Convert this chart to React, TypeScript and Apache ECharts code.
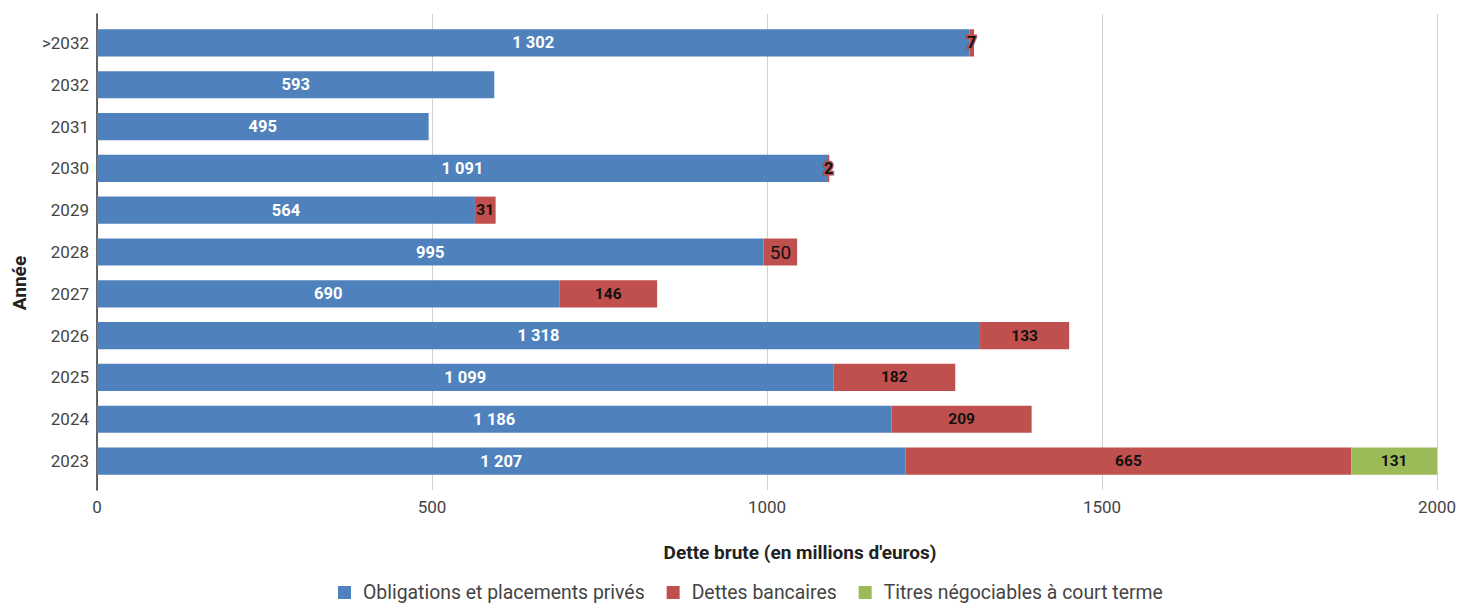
import React, { useEffect, useRef } from "react";
import * as echarts from "echarts";

const categories = ["2023", "2024", "2025", "2026", "2027", "2028", "2029", "2030", "2031", "2032", ">2032"];
const obligations = [1207, 1186, 1099, 1318, 690, 995, 564, 1091, 495, 593, 1302];
const dettesBancaires = [665, 209, 182, 133, 146, 50, 31, 2, null, null, 7];
const titres = [131, null, null, null, null, null, null, null, null, null, null];
const xTicks = [0, 500, 1000, 1500, 2000];

const fmt = (v: number) => String(v).replace(/\B(?=(\d{3})+(?!\d))/g, " ");
const FONT = "Roboto";

export default function App() {
  const ref = useRef<HTMLDivElement>(null);
  useEffect(() => {
    document.body.style.margin = "0";
    const chart = echarts.init(ref.current!, null, { renderer: "svg" });
    const redData = dettesBancaires.map((v) => {
      if (v === null) return null;
      if (v < 10) {
        return {
          value: v,
          label: { textBorderColor: "#c0504d", textBorderWidth: 3, fontSize: 16 },
        };
      }
      if (v === 50) {
        return { value: v, label: { fontSize: 19, fontWeight: "normal" } };
      }
      return v;
    });
    chart.setOption({
      animation: false,
      textStyle: { fontFamily: FONT },
      grid: [
        { left: 97, right: 20, top: 14, bottom: 115, outerBoundsMode: "none", containLabel: false },
        { left: 97, right: 20, top: 22, bottom: 123, outerBoundsMode: "none", containLabel: false },
      ],
      xAxis: [
        {
          gridIndex: 0,
          type: "value",
          min: xTicks[0],
          max: xTicks[xTicks.length - 1],
          interval: 500,
          axisLine: { show: false },
          axisTick: { show: false },
          axisLabel: {
            color: "#444",
            fontSize: 17,
            margin: 8,
            fontFamily: FONT,
            formatter: (v: number) => String(v),
          },
          splitLine: { lineStyle: { color: "#d0d0d0", width: 1 } },
        },
        {
          gridIndex: 1,
          type: "value",
          min: 0,
          max: 2000,
          show: false,
        },
      ],
      yAxis: [
        {
          gridIndex: 0,
          type: "value",
          min: 0,
          max: 1,
          axisLine: { show: true, lineStyle: { color: "#333", width: 1.5 } },
          axisTick: { show: false },
          axisLabel: { show: false },
          splitLine: { show: false },
        },
        {
          gridIndex: 1,
          type: "category",
          data: categories,
          axisLine: { show: false },
          axisTick: { show: false },
          axisLabel: { color: "#444", fontSize: 17, margin: 8, fontFamily: FONT },
          splitLine: { show: false },
        },
      ],
      legend: {
        top: 578,
        left: 333,
        itemWidth: 13,
        itemHeight: 13,
        itemGap: 22,
        icon: "rect",
        textStyle: { fontSize: 19.4, color: "#444", fontFamily: FONT, padding: [0, 0, 0, 7] },
        data: ["Obligations et placements privés", "Dettes bancaires", "Titres négociables à court terme"],
      },
      graphic: [
        {
          type: "text",
          x: 800,
          y: 552,
          style: {
            text: "Dette brute (en millions d'euros)",
            font: `bold 19px ${FONT}`,
            fill: "#222",
            align: "center",
            verticalAlign: "middle",
          },
        },
        {
          type: "text",
          x: 19,
          y: 283,
          rotation: Math.PI / 2,
          style: {
            text: "Année",
            font: `bold 19px ${FONT}`,
            fill: "#222",
            align: "center",
            verticalAlign: "middle",
          },
        },
      ],
      series: [
        {
          name: "Obligations et placements privés",
          type: "bar",
          stack: "total",
          xAxisIndex: 1,
          yAxisIndex: 1,
          barCategoryGap: "35%",
          data: obligations,
          itemStyle: { color: "#4f81bd" },
          label: {
            show: true,
            position: "inside",
            color: "#fff",
            fontWeight: "bold",
            fontSize: 16.5,
            fontFamily: FONT,
            formatter: (p: any) => fmt(p.value),
          },
        },
        {
          name: "Dettes bancaires",
          type: "bar",
          stack: "total",
          xAxisIndex: 1,
          yAxisIndex: 1,
          barCategoryGap: "35%",
          data: redData,
          itemStyle: { color: "#c0504d" },
          label: {
            show: true,
            position: "inside",
            color: "#111",
            fontWeight: "bold",
            fontSize: 15.5,
            fontFamily: FONT,
            formatter: (p: any) => fmt(p.value),
          },
        },
        {
          name: "Titres négociables à court terme",
          type: "bar",
          stack: "total",
          xAxisIndex: 1,
          yAxisIndex: 1,
          barCategoryGap: "35%",
          data: titres,
          itemStyle: { color: "#9bbb59" },
          label: {
            show: true,
            position: "inside",
            color: "#111",
            fontWeight: "bold",
            fontSize: 15.5,
            fontFamily: FONT,
            formatter: (p: any) => fmt(p.value),
          },
        },
      ],
    });
    return () => chart.dispose();
  }, []);
  return <div ref={ref} style={{ width: 1457, height: 605 }} />;
}
